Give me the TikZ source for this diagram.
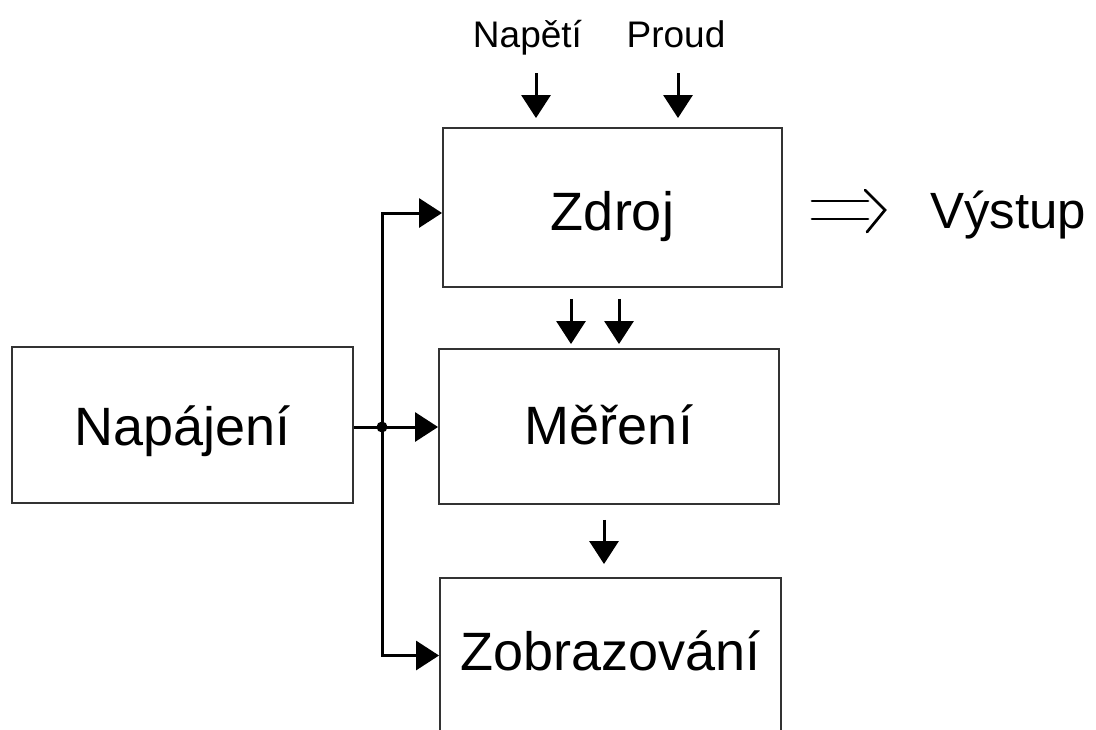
\documentclass[tikz,border=0pt]{standalone}
\usepackage{fontspec}
\setmainfont{Liberation Sans}
\usetikzlibrary{arrows.meta,calc}

\tikzset{
  blockbox/.style={draw=black!80, line width=1.9pt, minimum width=340pt,
    minimum height=156pt, inner sep=0pt, text depth=0pt,
    font=\fontsize{54}{60}\selectfont},
  biglabel/.style={inner sep=0pt, font=\fontsize{51}{58}\selectfont},
  smalllabel/.style={inner sep=0pt, font=\fontsize{37}{42}\selectfont},
  conn/.style={line width=3pt, -{Triangle[width=29pt,length=23pt]}},
  wire/.style={line width=3pt},
  implies/.style={line width=2.7pt, line cap=round, line join=miter}
}

\begin{document}
\begin{tikzpicture}[x=1pt, y=-1pt]
  \path[use as bounding box, clip] (0,0) rectangle (1096,729);
  \fill[white] (0,0) rectangle (1096,729);

  % blocks
  \node[blockbox, text height=45pt, minimum width=339pt, minimum height=159pt]
    (zdroj) at (612.5,207.5) {Zdroj};
  \node[blockbox, text height=35pt, minimum height=155pt]
    (mereni) at (609,426.5) {Měření};
  \node[blockbox, text height=29pt, minimum width=341pt, minimum height=155pt]
    (zobr) at (610.5,655.5) {Zobrazování};
  \node[blockbox, text height=40pt, minimum width=341pt]
    (napajeni) at (182.5,425) {Napájení};

  % input signals of the source
  \node[smalllabel, anchor=base] (napeti) at (527.5,47) {Napětí};
  \node[smalllabel, anchor=base] (proud) at (676,47) {Proud};
  \coordinate (nIn) at (536,73);
  \coordinate (pIn) at (678,73);
  \draw[conn, shorten >=9pt] (nIn) -- (nIn |- zdroj.north);
  \draw[conn, shorten >=9pt] (pIn) -- (pIn |- zdroj.north);

  % source -> measurement
  \coordinate (m1) at (571,0);
  \coordinate (m2) at (619,0);
  \draw[conn, shorten <=11pt, shorten >=4pt] (m1 |- zdroj.south) -- (m1 |- mereni.north);
  \draw[conn, shorten <=11pt, shorten >=4pt] (m2 |- zdroj.south) -- (m2 |- mereni.north);

  % measurement -> display
  \coordinate (d1) at (604,0);
  \draw[conn, shorten <=15pt, shorten >=13pt] (d1 |- mereni.south) -- (d1 |- zobr.north);

  % power distribution
  \coordinate (j) at (382,427);
  \coordinate (zIn) at (0,213);
  \draw[wire] (napajeni.east |- j) -- (j);
  \draw[conn] (j) -- (mereni.west |- j);
  \draw[conn] (j) |- (zdroj.west |- zIn);
  \draw[conn] (j) |- (zobr.west);
  \fill (j) circle (5.5pt);

  % output
  \node[biglabel, anchor=base west] (vystup) at (930,228) {Výstup};
  \coordinate (oA) at (812,210);
  \draw[implies] ($(oA)+(0,-9)$) -- ($(oA)+(56,-9)$);
  \draw[implies] ($(oA)+(0,9)$) -- ($(oA)+(56,9)$);
  \draw[implies] ($(oA)+(53,-20)$) -- ($(oA)+(73,0)$) -- ($(oA)+(55,22)$);
\end{tikzpicture}
\end{document}
